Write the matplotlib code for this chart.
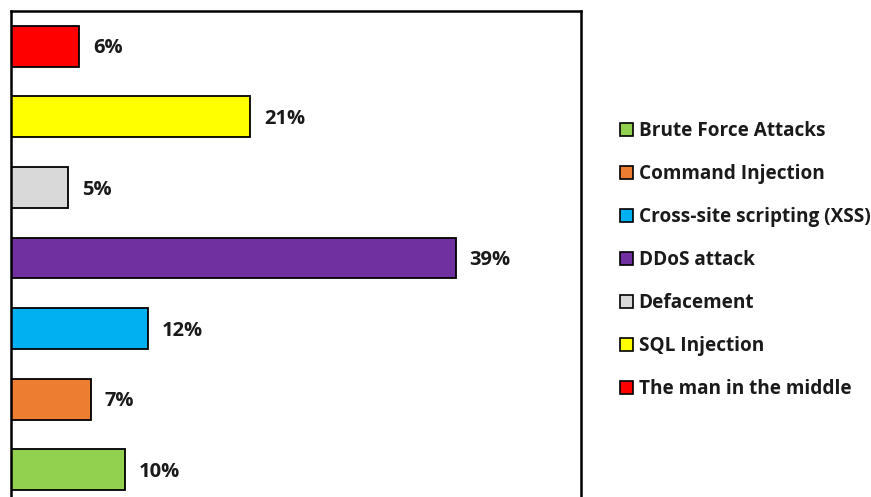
import matplotlib
matplotlib.use("Agg")
import matplotlib.pyplot as plt
from matplotlib.patches import Patch

categories = ["Brute Force Attacks", "Command Injection", "Cross-site scripting (XSS)",
              "DDoS attack", "Defacement", "SQL Injection", "The man in the middle"]
shares = [10, 7, 12, 39, 5, 21, 6]
colors = ["#92D050", "#ED7D31", "#00B0F0", "#7030A0", "#D9D9D9", "#FFFF00", "#FF0000"]

plt.rcParams["font.family"] = ["Open Sans", "DejaVu Sans"]

fig = plt.figure(figsize=(8.71, 4.97), dpi=100)
ax = fig.add_axes([11 / 871, 1 - 505 / 497, 570 / 871, 494 / 497])

y = list(range(len(categories)))
ax.barh(y, shares, height=0.58, color=colors, edgecolor="black", linewidth=1.3, zorder=2)

for yi, v in zip(y, shares):
    ax.annotate(f"{v}%", (v, yi), xytext=(10, -1.5), textcoords="offset points",
                ha="left", va="center", fontsize=14.5, fontweight="bold", color="#1a1a1a")

ax.set_xlim(0, 50)
ax.set_ylim(-0.5, len(categories) - 0.5)
ax.set_xticks([])
ax.set_yticks([])
for s in ax.spines.values():
    s.set_linewidth(1.8)
    s.set_color("black")

handles = [Patch(facecolor=c, edgecolor="black", linewidth=1.2, label=l)
           for c, l in zip(colors, categories)]
fig.legend(handles=handles, loc="center left", bbox_to_anchor=(620 / 871, 1 - 260 / 497),
           frameon=False, handlelength=0.68, handleheight=0.68,
           handletextpad=0.3, labelspacing=1.21, borderaxespad=0, borderpad=0,
           prop={"weight": "bold", "size": 13.7}, labelcolor="#1a1a1a")

fig.savefig("out.png", dpi=100)
